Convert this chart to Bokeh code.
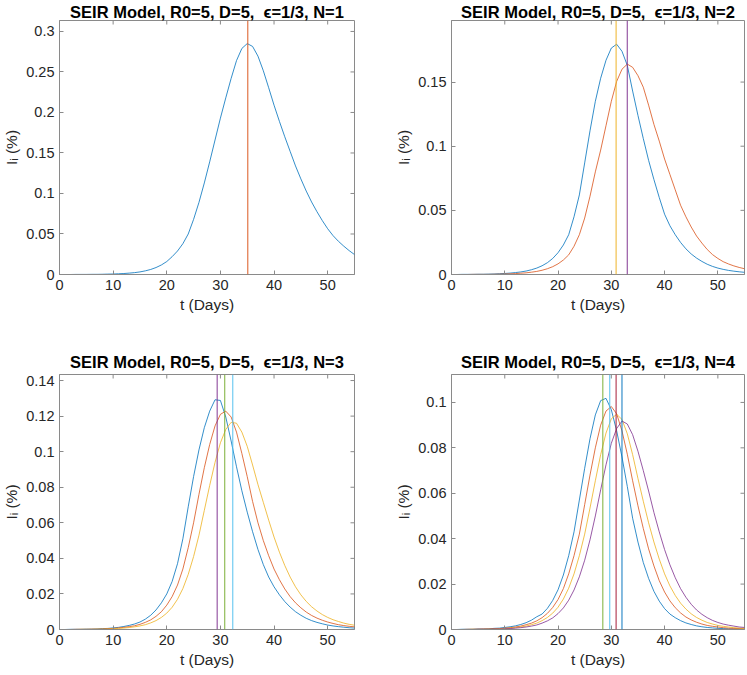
import math
from bokeh.plotting import figure
from bokeh.layouts import column, row
from bokeh.models import Range1d, FixedTicker, Span, CustomJSTickFormatter
from bokeh.embed import file_html
from bokeh.resources import INLINE

days = list(range(56))

# N=1
n1_s1 = [0.0000, 0.0000, 0.0000, 0.0001, 0.0001, 0.0001, 0.0002, 0.0002, 0.0003, 0.0005,
         0.0006, 0.0009, 0.0012, 0.0017, 0.0023, 0.0032, 0.0045, 0.0062, 0.0086, 0.0118,
         0.0160, 0.0220, 0.0290, 0.0380, 0.0500, 0.0680, 0.0890, 0.1130, 0.1390, 0.1660,
         0.1930, 0.2180, 0.2420, 0.2640, 0.2790, 0.2850, 0.2815, 0.2695, 0.2515, 0.2305,
         0.2090, 0.1890, 0.1700, 0.1520, 0.1340, 0.1180, 0.1030, 0.0895, 0.0775, 0.0665,
         0.0565, 0.0480, 0.0410, 0.0350, 0.0295, 0.0246]

# N=2
n2_s1 = [0.0000, 0.0000, 0.0001, 0.0001, 0.0001, 0.0002, 0.0002, 0.0003, 0.0004, 0.0006,
         0.0008, 0.0011, 0.0015, 0.0020, 0.0027, 0.0037, 0.0050, 0.0068, 0.0092, 0.0125,
         0.0170, 0.0230, 0.0310, 0.0450, 0.0620, 0.0870, 0.1120, 0.1350, 0.1530, 0.1670,
         0.1765, 0.1795, 0.1740, 0.1630, 0.1430, 0.1240, 0.1060, 0.0890, 0.0740, 0.0600,
         0.0470, 0.0380, 0.0310, 0.0250, 0.0200, 0.0160, 0.0128, 0.0102, 0.0080, 0.0063,
         0.0050, 0.0040, 0.0032, 0.0026, 0.0021, 0.0017]
n2_s2 = [0.0000, 0.0000, 0.0000, 0.0000, 0.0001, 0.0001, 0.0001, 0.0001, 0.0002, 0.0003,
         0.0004, 0.0005, 0.0007, 0.0010, 0.0013, 0.0018, 0.0024, 0.0033, 0.0045, 0.0061,
         0.0083, 0.0113, 0.0153, 0.0220, 0.0310, 0.0440, 0.0610, 0.0800, 0.0970, 0.1160,
         0.1350, 0.1505, 0.1600, 0.1640, 0.1615, 0.1550, 0.1460, 0.1320, 0.1170, 0.1040,
         0.0900, 0.0780, 0.0660, 0.0540, 0.0450, 0.0370, 0.0300, 0.0245, 0.0195, 0.0155,
         0.0125, 0.0100, 0.0082, 0.0067, 0.0055, 0.0045]

# N=3
n3_s1 = [0.0000, 0.0000, 0.0001, 0.0001, 0.0001, 0.0002, 0.0002, 0.0003, 0.0005, 0.0006,
         0.0009, 0.0012, 0.0017, 0.0023, 0.0031, 0.0042, 0.0058, 0.0080, 0.0110, 0.0150,
         0.0200, 0.0270, 0.0370, 0.0510, 0.0690, 0.0860, 0.1010, 0.1135, 0.1228, 0.1292,
         0.1288, 0.1195, 0.1060, 0.0915, 0.0780, 0.0660, 0.0550, 0.0450, 0.0365, 0.0295,
         0.0240, 0.0195, 0.0157, 0.0126, 0.0100, 0.0080, 0.0063, 0.0050, 0.0040, 0.0032,
         0.0025, 0.0020, 0.0016, 0.0013, 0.0010, 0.0008]
n3_s2 = [0.0000, 0.0000, 0.0000, 0.0001, 0.0001, 0.0001, 0.0002, 0.0002, 0.0003, 0.0005,
         0.0006, 0.0009, 0.0012, 0.0016, 0.0021, 0.0029, 0.0040, 0.0054, 0.0074, 0.0100,
         0.0137, 0.0185, 0.0250, 0.0340, 0.0460, 0.0600, 0.0760, 0.0910, 0.1040, 0.1145,
         0.1210, 0.1228, 0.1195, 0.1110, 0.0990, 0.0860, 0.0720, 0.0600, 0.0500, 0.0415,
         0.0340, 0.0280, 0.0228, 0.0185, 0.0150, 0.0122, 0.0098, 0.0079, 0.0064, 0.0052,
         0.0042, 0.0034, 0.0027, 0.0022, 0.0018, 0.0015]
n3_s3 = [0.0000, 0.0000, 0.0000, 0.0000, 0.0001, 0.0001, 0.0001, 0.0002, 0.0002, 0.0003,
         0.0004, 0.0006, 0.0008, 0.0011, 0.0015, 0.0020, 0.0027, 0.0037, 0.0050, 0.0068,
         0.0092, 0.0125, 0.0170, 0.0230, 0.0310, 0.0410, 0.0530, 0.0670, 0.0810, 0.0940,
         0.1050, 0.1125, 0.1165, 0.1160, 0.1110, 0.1030, 0.0925, 0.0815, 0.0715, 0.0615,
         0.0520, 0.0435, 0.0360, 0.0295, 0.0240, 0.0195, 0.0158, 0.0128, 0.0104, 0.0084,
         0.0068, 0.0055, 0.0045, 0.0036, 0.0029, 0.0024]

# N=4
n4_s1 = [0.0000, 0.0000, 0.0001, 0.0001, 0.0001, 0.0002, 0.0002, 0.0003, 0.0005, 0.0006,
         0.0009, 0.0012, 0.0016, 0.0022, 0.0030, 0.0041, 0.0056, 0.0068, 0.0093, 0.0128,
         0.0175, 0.0240, 0.0325, 0.0430, 0.0570, 0.0710, 0.0840, 0.0945, 0.1008, 0.1018,
         0.0968, 0.0875, 0.0760, 0.0630, 0.0490, 0.0385, 0.0295, 0.0225, 0.0168, 0.0125,
         0.0092, 0.0068, 0.0052, 0.0039, 0.0029, 0.0022, 0.0016, 0.0012, 0.0009, 0.0007,
         0.0005, 0.0004, 0.0003, 0.0002, 0.0002, 0.0001]
n4_s2 = [0.0000, 0.0000, 0.0000, 0.0001, 0.0001, 0.0001, 0.0002, 0.0002, 0.0003, 0.0004,
         0.0006, 0.0008, 0.0011, 0.0015, 0.0021, 0.0028, 0.0038, 0.0052, 0.0071, 0.0097,
         0.0132, 0.0180, 0.0245, 0.0325, 0.0420, 0.0550, 0.0680, 0.0800, 0.0900, 0.0962,
         0.0982, 0.0950, 0.0875, 0.0772, 0.0655, 0.0545, 0.0445, 0.0355, 0.0280, 0.0215,
         0.0165, 0.0126, 0.0096, 0.0073, 0.0055, 0.0042, 0.0032, 0.0024, 0.0018, 0.0014,
         0.0011, 0.0008, 0.0006, 0.0005, 0.0004, 0.0003]
n4_s3 = [0.0000, 0.0000, 0.0000, 0.0000, 0.0001, 0.0001, 0.0001, 0.0002, 0.0002, 0.0003,
         0.0004, 0.0006, 0.0008, 0.0011, 0.0015, 0.0021, 0.0028, 0.0039, 0.0053, 0.0072,
         0.0098, 0.0134, 0.0182, 0.0245, 0.0325, 0.0420, 0.0535, 0.0655, 0.0770, 0.0865,
         0.0928, 0.0948, 0.0925, 0.0862, 0.0770, 0.0665, 0.0565, 0.0470, 0.0385, 0.0310,
         0.0245, 0.0192, 0.0150, 0.0116, 0.0090, 0.0069, 0.0053, 0.0041, 0.0031, 0.0024,
         0.0018, 0.0014, 0.0011, 0.0008, 0.0006, 0.0005]
n4_s4 = [0.0000, 0.0000, 0.0000, 0.0000, 0.0000, 0.0001, 0.0001, 0.0001, 0.0002, 0.0002,
         0.0003, 0.0004, 0.0006, 0.0008, 0.0011, 0.0015, 0.0020, 0.0028, 0.0038, 0.0051,
         0.0070, 0.0095, 0.0129, 0.0174, 0.0232, 0.0305, 0.0395, 0.0500, 0.0615, 0.0725,
         0.0820, 0.0885, 0.0918, 0.0905, 0.0858, 0.0785, 0.0700, 0.0610, 0.0515, 0.0430,
         0.0352, 0.0285, 0.0228, 0.0180, 0.0142, 0.0111, 0.0086, 0.0067, 0.0052, 0.0040,
         0.0031, 0.0024, 0.0019, 0.0015, 0.0011, 0.0009]

# peak days (vertical lines)
peaks_n1 = [35.1]
peaks_n2 = [30.9, 33.0]
peaks_n3 = [29.4, 30.8, 32.3]
peaks_n4 = [28.4, 29.7, 30.9, 32.0]

xticks = [0, 10, 20, 30, 40, 50]
yticks_n1 = [0, 0.05, 0.1, 0.15, 0.2, 0.25, 0.3]
yticks_n2 = [0, 0.05, 0.1, 0.15]
yticks_n3 = [0, 0.02, 0.04, 0.06, 0.08, 0.1, 0.12, 0.14]
yticks_n4 = [0, 0.02, 0.04, 0.06, 0.08, 0.1]
ymax = [0.3135, 0.198, 0.1434, 0.1123]
xmax = 55

colors = ["#0072BD", "#D95319", "#EDB120", "#7E2F8E", "#77AC30", "#4DBEEE", "#A2142F"]
FONT = "Liberation Sans"
AXC = "#8a8a8a"
TXT = "#262626"


def make_panel(n, series, peaks, yticks, ytop, width, height, bl, br, bt, bb, tstand):
    p = figure(width=width, height=height, x_range=Range1d(0, xmax), y_range=Range1d(0, ytop),
               output_backend="svg", toolbar_location=None,
               min_border_left=bl, min_border_right=br, min_border_top=bt, min_border_bottom=bb,
               title="SEIR Model, R0=5, D=5, \u00a0\u03f5=1/3, N=%d" % n)
    p.title.align = "center"
    p.title.text_font = FONT
    p.title.text_font_size = "16.5px"
    p.title.text_font_style = "bold"
    p.title.text_color = "#000000"
    p.title.standoff = tstand
    p.title.offset = 0
    p.grid.visible = False
    p.outline_line_color = AXC
    p.outline_line_width = 1
    p.background_fill_color = "white"
    p.border_fill_color = "white"

    fmt = CustomJSTickFormatter(code="return String(parseFloat(tick.toFixed(4)));")
    p.xaxis.ticker = FixedTicker(ticks=xticks)
    p.yaxis.ticker = FixedTicker(ticks=yticks)
    p.xaxis.formatter = fmt
    p.yaxis.formatter = fmt
    p.xaxis.axis_label = "t (Days)"
    p.yaxis.axis_label = "I\u1d62 (%)"
    for ax in p.axis:
        ax.axis_line_color = AXC
        ax.major_tick_line_color = AXC
        ax.major_tick_in = 4
        ax.major_tick_out = 0
        ax.minor_tick_line_color = None
        ax.major_label_text_font = FONT
        ax.major_label_text_font_size = "14.5px"
        ax.major_label_text_color = TXT
        ax.axis_label_text_font = FONT
        ax.axis_label_text_font_size = "15.5px"
        ax.axis_label_text_font_style = "normal"
        ax.axis_label_text_color = TXT
        ax.major_label_standoff = 5
        ax.axis_label_standoff = 3

    # inward ticks on the top and right edges of the box (MATLAB style)
    p.scatter(x=xticks, y=[ytop] * len(xticks), marker="dash", angle=math.pi / 2,
              size=8, line_color=AXC, line_width=1)
    p.scatter(x=[xmax] * len(yticks), y=yticks, marker="dash", angle=0,
              size=8, line_color=AXC, line_width=1)

    for i, s in enumerate(series):
        p.line(days, s, line_color=colors[i % 7], line_width=1, line_alpha=0.8)
    k = len(series)
    for j, pk in enumerate(peaks):
        p.add_layout(Span(location=pk, dimension="height", line_color=colors[(k + j) % 7],
                          line_width=1.2, line_alpha=0.8))
    return p


p1 = make_panel(1, [n1_s1], peaks_n1, yticks_n1, ymax[0], 392, 340, 58, 38, 19, 66, 0)
p2 = make_panel(2, [n2_s1, n2_s2], peaks_n2, yticks_n2, ymax[1], 354, 340, 56, 2, 19, 66, 0)
p3 = make_panel(3, [n3_s1, n3_s2, n3_s3], peaks_n3, yticks_n3, ymax[2], 392, 334, 58, 38, 34, 45, 7)
p4 = make_panel(4, [n4_s1, n4_s2, n4_s3, n4_s4], peaks_n4, yticks_n4, ymax[3], 354, 334, 56, 2, 34, 45, 7)

layout = column(row(p1, p2), row(p3, p4))

open("out.html", "w").write(file_html(layout, INLINE, title="SEIR Model"))
